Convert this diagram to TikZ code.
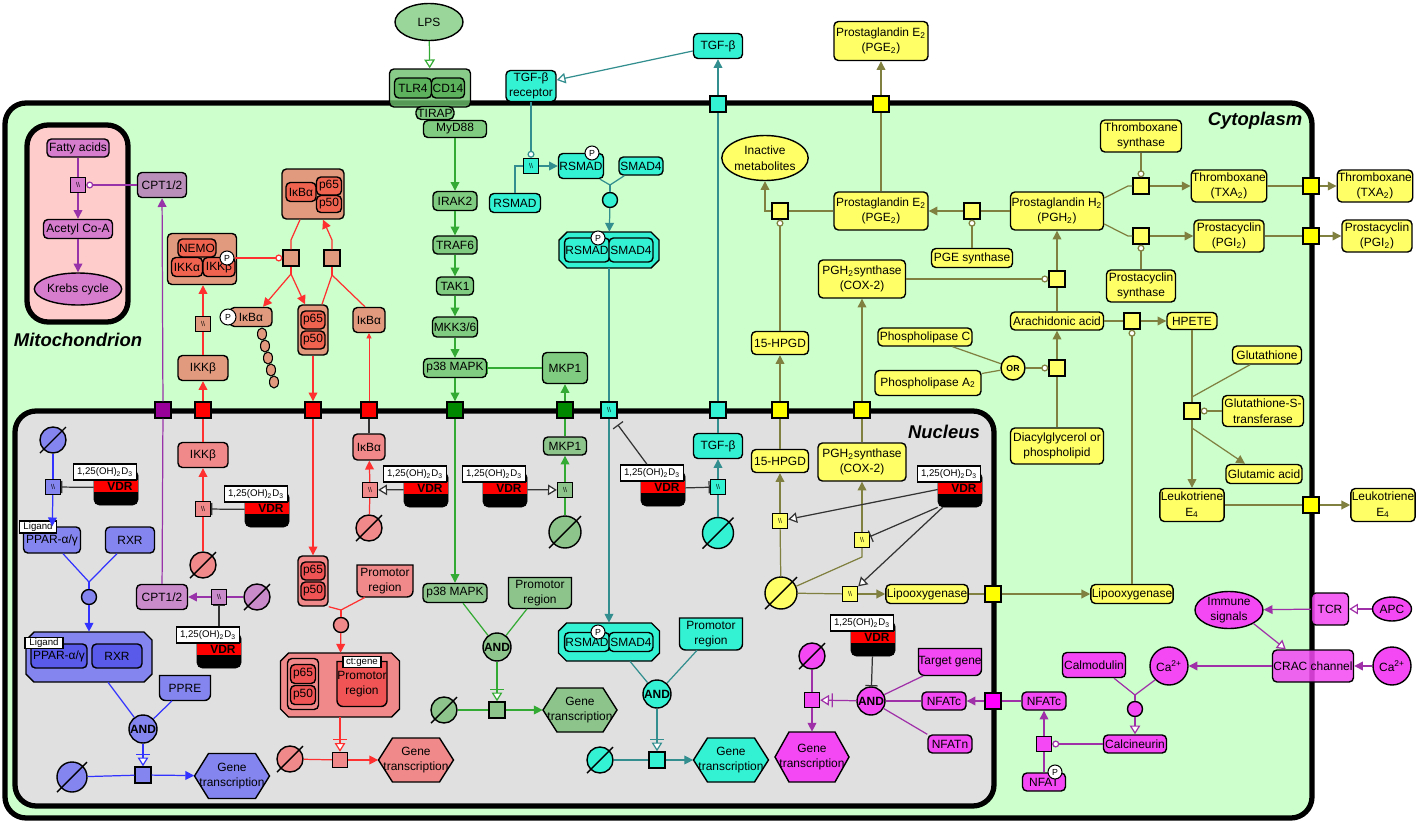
\documentclass[tikz,border=0pt]{standalone}
\usepackage{fontspec}
\setmainfont{Liberation Sans}
\usetikzlibrary{arrows.meta,calc,shapes.geometric}

\definecolor{cyto}{HTML}{CCFFCC}
\definecolor{mito}{HTML}{FFCCCC}
\definecolor{nucl}{HTML}{E0E0E0}
\definecolor{orch}{HTML}{D67DCE}
\definecolor{cptc}{HTML}{BA8FBA}
\definecolor{cptn}{HTML}{C98BC9}
\definecolor{salm}{HTML}{E29A7E}
\definecolor{redin}{HTML}{F0634F}
\definecolor{lcor}{HTML}{F08A8A}
\definecolor{redin2}{HTML}{F05454}
\definecolor{blu}{HTML}{8585F0}
\definecolor{bluin}{HTML}{5A5AEA}
\definecolor{grc}{HTML}{80CC80}
\definecolor{grn}{HTML}{8CC48C}
\definecolor{grin}{HTML}{5DB35D}
\definecolor{lpsc}{HTML}{9AD69A}
\definecolor{tlr}{HTML}{6CBF6C}
\definecolor{cyn}{HTML}{33F2D4}
\definecolor{yel}{HTML}{FFFF66}
\definecolor{mag}{HTML}{F348F3}
\definecolor{sqpur}{HTML}{990099}
\definecolor{sqgrn}{HTML}{008800}
\definecolor{sqmag}{HTML}{FF00FF}
\definecolor{sqyel}{HTML}{FFFF00}
% line colours
\definecolor{lnpur}{HTML}{9933AA}
\definecolor{lnred}{HTML}{FF3030}
\definecolor{lnblu}{HTML}{3333FF}
\definecolor{lngrn}{HTML}{33AA33}
\definecolor{lntea}{HTML}{338F8F}
\definecolor{lnoli}{HTML}{808040}
\definecolor{lnmag}{HTML}{A030A8}
\definecolor{lnvdr}{HTML}{333333}

\newcommand{\omt}{\textbackslash\textbackslash}

% nucleic acid feature: flat top, rounded bottom
\newcommand{\nafeat}[7]{%
  \draw[fill=#6, line width=0.8pt] ({#2-#4/2},{#3-#5/2}) -- ({#2+#4/2},{#3-#5/2})
    -- ({#2+#4/2},{#3+#5/2-6}) arc (0:-90:0.12cm) -- ({#2-#4/2+6},{#3+#5/2})
    arc (270:180:0.12cm) -- cycle;
  \node[sz={#4}{#5}] (#1) at (#2,#3) {#7};}

% complex with cut corners
\newcommand{\octbox}[6]{%
  \draw[fill=#6, line width=0.8pt] ({#2-#4/2+8},{#3-#5/2}) -- ({#2+#4/2-8},{#3-#5/2})
    -- ({#2+#4/2},{#3-#5/2+8}) -- ({#2+#4/2},{#3+#5/2-8}) -- ({#2+#4/2-8},{#3+#5/2})
    -- ({#2-#4/2+8},{#3+#5/2}) -- ({#2-#4/2},{#3+#5/2-8}) -- ({#2-#4/2},{#3-#5/2+8}) -- cycle;
  \node[sz={#4}{#5}, inner sep=0pt] (#1) at (#2,#3) {};}

% gene transcription hexagon
\newcommand{\genebox}[6]{%
  \draw[fill=#6, line width=0.8pt] ({#2-#4/2},#3) -- ({#2-#4/2+14},{#3-#5/2})
    -- ({#2+#4/2-14},{#3-#5/2}) -- ({#2+#4/2},#3) -- ({#2+#4/2-14},{#3+#5/2})
    -- ({#2-#4/2+14},{#3+#5/2}) -- cycle;
  \node[sz={#4}{#5}, inner sep=0pt] (#1) at (#2,#3) {Gene\\transcription};}

% degradation
\newcommand{\sinkat}[5]{%
  \node[sink, fill=#5, minimum size=#4*0.02cm] (#1) at (#2,#3) {};
  \draw[line width=0.8pt] ($(#1.center)+({-0.5*#4},{0.5*#4})$) -- ($(#1.center)+({0.5*#4},{-0.5*#4})$);}

% VDR with its ligand
\newcommand{\vdr}[3]{%
  \node[vdrbody] (#1) at ({#2},{#3+1.5}) {};
  \fill[red] ({#2-22},{#3-6}) rectangle ({#2+22},{#3+6});
  \node[font=\bfseries\fontsize{6.8}{6.8}\selectfont, inner sep=0pt] (#1t) at ({#2+4},{#3}) {VDR};
  \node[lbl, sz={63}{16}] (#1l) at ({#2-11},{#3-14}) {1,25(OH)\textsubscript{2}D\textsubscript{3}};}

\begin{document}
\begin{tikzpicture}[x=0.02cm, y=-0.02cm,
  every node/.style={font=\fontsize{6.8}{8.8}\selectfont, align=center, inner sep=0.5pt},
  sz/.style 2 args={minimum width=#1*0.02cm, minimum height=#2*0.02cm},
  mol/.style={rectangle, draw, rounded corners=2.5pt, line width=0.8pt},
  proc/.style={rectangle, draw, line width=0.8pt, minimum size=15*0.02cm, inner sep=0pt, font=\fontsize{4}{4}\selectfont},
  bnd/.style={proc, minimum size=16*0.02cm},
  sink/.style={circle, draw, line width=0.8pt, inner sep=0pt},
  assoc/.style={circle, draw, line width=0.8pt, minimum size=15*0.02cm, inner sep=0pt},
  gate/.style={circle, draw, line width=0.8pt, minimum size=28*0.02cm, inner sep=0pt, font=\bfseries\fontsize{6.8}{6.8}\selectfont},
  pbub/.style={circle, draw, fill=white, line width=0.6pt, minimum size=14*0.02cm, inner sep=0pt, font=\fontsize{5}{5}\selectfont},
  lbl/.style={rectangle, draw, fill=white, line width=0.8pt, inner sep=0.5pt, font=\fontsize{5.5}{5.5}\selectfont},
  ell/.style={ellipse, draw, line width=0.8pt, inner sep=0pt},
  ion/.style={circle, draw, line width=0.8pt, minimum size=38*0.02cm, inner sep=0pt},
  vdrbody/.style={rectangle, draw, fill=black, rounded corners=3pt, sz={44}{35}},
  comp/.style={draw, line width=3pt, rounded corners=12pt},
  compname/.style={font=\bfseries\itshape\fontsize{10.5}{12}\selectfont},
  act/.style={-{Triangle[length=5pt,width=5pt]}},
  stim/.style={-{Triangle[length=5pt,width=6pt,fill=white]}},
  inh/.style={-{Bar[width=7pt]}},
  cat/.style={-{Circle[length=4pt,fill=white]}},
  nec/.style={-{Bar[width=8pt,sep=1.5pt]Triangle[length=5pt,width=6pt,fill=white]}},
  lp/.style={draw=lnpur, line width=0.7pt},
  lr/.style={draw=lnred, line width=0.7pt},
  lb/.style={draw=lnblu, line width=0.7pt},
  lg/.style={draw=lngrn, line width=0.7pt},
  lc/.style={draw=lntea, line width=0.7pt},
  ly/.style={draw=lnoli, line width=0.7pt},
  lm/.style={draw=lnmag, line width=0.7pt},
  lv/.style={draw=lnvdr, line width=0.7pt}]

\useasboundingbox (0,0) rectangle (1418,825);

% compartments
\draw[comp, fill=cyto] (5,103) rectangle (1312,818);
\draw[comp, fill=mito] (27,125) rectangle (128,322);
\draw[comp, fill=nucl] (15,411) rectangle (994,806);
\node[compname] (cytolbl) at (1255,121) {Cytoplasm};
\node[compname] (mitolbl) at (78,340) {Mitochondrion};
\node[compname] (nuclbl) at (944,432) {Nucleus};

% mitochondrion
\node[mol, fill=orch, sz={62}{18}] (fa) at (78,148) {Fatty acids};
\node[proc, fill=orch] (faSq) at (78,185) {\omt};
\node[mol, fill=orch, sz={69}{19}] (acoa) at (78,229) {Acetyl Co-A};
\node[ell, fill=orch, sz={70}{32}] (krebs) at (78,289) {Krebs cycle};
\node[mol, fill=cptc, sz={49}{25}] (cptc) at (162,185) {CPT1/2};

% NF-kB in the cytoplasm
\node[mol, fill=salm, sz={62}{50}] (ikbcx) at (313,194) {};
\node[mol, fill=redin, sz={30}{19}] (ikbcx1) at (301,192) {IκBα};
\node[mol, fill=redin, sz={25}{18}] (ikbcx2) at (329,186) {p65};
\node[mol, fill=redin, sz={25}{17}] (ikbcx3) at (329,204) {p50};
\node[mol, fill=salm, sz={69}{51}] (ikkcx) at (202,259) {};
\node[mol, fill=redin, sz={38}{18}] (nemo) at (197,248) {NEMO};
\node[mol, fill=redin, sz={31}{19}] (ikka) at (187,267) {IKKα};
\node[mol, fill=redin, sz={32}{19}] (ikkb) at (219,267) {IKKβ};
\node[pbub] (ikkP) at (227,258) {P};
\node[bnd, fill=salm] (dSq1) at (291,258) {};
\node[bnd, fill=salm] (aSq2) at (332,258) {};
\node[mol, fill=salm, sz={42}{19}] (pikba) at (251,317) {IκBα};
\node[pbub, minimum size=16*0.02cm] (pikbaP) at (228,317) {P};
\foreach \bx/\by in {262/334, 265/346, 268/358, 271/370, 274/382}
  \draw[fill=salm, line width=0.6pt] (\bx,\by) ellipse (0.09cm and 0.12cm);
\node[mol, fill=salm, sz={30}{50}] (p6550c) at (313,330) {};
\node[mol, fill=redin, sz={24}{18}] (p65c) at (313,320) {p65};
\node[mol, fill=redin, sz={24}{18}] (p50c) at (313,340) {p50};
\node[mol, fill=salm, sz={32}{25}] (ikbac) at (369,320) {IκBα};
\node[mol, fill=salm, sz={50}{25}] (ikkbc) at (203,368) {IKKβ};
\node[proc, fill=salm] (ikkSq) at (203,324) {\omt};

% squares on the nuclear envelope
\node[bnd, fill=sqpur] (psq) at (163,410) {};
\node[bnd, fill=red] (rsq1) at (203,410) {};
\node[bnd, fill=red] (rsq2) at (313,410) {};
\node[bnd, fill=red] (rsq3) at (369,410) {};
\node[bnd, fill=sqgrn] (gsq1) at (455,410) {};
\node[bnd, fill=sqgrn] (gsq2) at (565,410) {};
\node[bnd, fill=cyn] (csq1) at (609,410) {\omt};
\node[bnd, fill=cyn] (csq2) at (718,410) {};
\node[bnd, fill=sqyel] (ysq1) at (780,410) {};
\node[bnd, fill=sqyel] (ysq2) at (862,410) {};

% NF-kB in the nucleus
\node[mol, fill=lcor, sz={50}{25}] (ikkbn) at (203,455) {IKKβ};
\node[proc, fill=lcor] (ikkSqn) at (203,509) {\omt};
\sinkat{ikkSink}{203}{565}{26}{lcor}
\node[mol, fill=lcor, sz={32}{26}] (ikban) at (369,447) {IκBα};
\node[proc, fill=lcor] (ikbSqn) at (370,490) {\omt};
\sinkat{ikbSink}{369}{528}{26}{lcor}
\node[mol, fill=lcor, sz={30}{50}] (p6550n) at (313,581) {};
\node[mol, fill=redin2, sz={24}{18}] (p65n) at (313,571) {p65};
\node[mol, fill=redin2, sz={24}{18}] (p50n) at (313,591) {p50};
\nafeat{promR}{385}{581}{56}{32}{lcor}{Promotor\\region}
\node[assoc, fill=lcor] (joinR) at (341,625) {};
\octbox{cxR}{340}{685}{119}{64}{lcor}
\node[mol, fill=lcor, sz={31}{51}] (cxRp) at (303,684) {};
\node[mol, fill=redin2, sz={25}{19}] (cxRp65) at (303,674) {p65};
\node[mol, fill=redin2, sz={25}{19}] (cxRp50) at (303,695) {p50};
\nafeat{cxRprom}{362}{684}{50}{45}{redin2}{Promotor\\region}
\node[lbl, sz={38}{11}] (ctgene) at (362,662) {ct:gene};
\node[proc, fill=lcor] (sqR) at (340,760) {};
\sinkat{sinkR}{290}{759}{26}{lcor}
\genebox{geneR}{416}{760}{75}{44}{lcor}

% PPAR
\sinkat{sinkB1}{53}{440}{26}{blu}
\node[proc, fill=blu] (sqB1) at (53,487) {\omt};
\node[mol, fill=blu, sz={57}{26}] (ppar) at (52,540) {PPAR-α/γ};
\node[lbl, sz={37}{12}] (ligand1) at (38,527) {Ligand};
\node[mol, fill=blu, sz={49}{26}] (rxr) at (130,540) {RXR};
\node[assoc, fill=blu] (joinB) at (89,597) {};
\octbox{cxB}{89}{657}{126}{50}{blu}
\node[mol, fill=bluin, sz={56}{24}] (cxBppar) at (59,656) {PPAR-α/γ};
\node[mol, fill=bluin, sz={50}{24}] (cxBrxr) at (117,656) {RXR};
\node[lbl, sz={38}{11}] (ligand2) at (44,643) {Ligand};
\nafeat{ppre}{185}{688}{51}{25}{blu}{PPRE}
\node[gate, fill=blu] (andB) at (143,729) {AND};
\node[bnd, fill=blu] (sqB2) at (143,775) {};
\sinkat{sinkB2}{72}{777}{30}{blu}
\genebox{geneB}{232}{776}{75}{45}{blu}

% CPT1/2 in the nucleus
\node[mol, fill=cptn, sz={51}{25}] (cptn) at (162,597) {CPT1/2};
\node[proc, fill=cptn] (sqP) at (219,597) {\omt};
\sinkat{sinkP}{257}{597}{26}{cptn}

% p38 MAPK
\node[ell, fill=lpsc, sz={68}{37}] (lps) at (429,22) {LPS};
\node[mol, fill=tlr, fill opacity=0.8, text opacity=1, sz={81}{38}] (tlrcx) at (430,88) {};
\node[mol, fill=grin, sz={37}{20}] (tlr4) at (413,88) {TLR4};
\node[mol, fill=grin, sz={33}{20}] (cd14) at (448,88) {CD14};
\node[mol, fill=grc, rounded corners=3pt, sz={38}{13}] (tirap) at (435,113) {TIRAP};
\node[mol, fill=grc, sz={63}{17}] (myd88) at (455,129) {MyD88};
\node[mol, fill=grc, sz={44}{19}] (irak2) at (455,201) {IRAK2};
\node[mol, fill=grc, sz={44}{18}] (traf6) at (455,245) {TRAF6};
\node[mol, fill=grc, sz={37}{18}] (tak1) at (455,286) {TAK1};
\node[mol, fill=grc, sz={45}{20}] (mkk) at (455,327) {MKK3/6};
\node[mol, fill=grc, sz={63}{19}] (p38c) at (455,368) {p38 MAPK};
\node[mol, fill=grc, sz={45}{31}] (mkp1c) at (565,368) {MKP1};
\node[mol, fill=grn, sz={43}{18}] (mkp1n) at (565,446) {MKP1};
\node[proc, fill=grn] (sqG) at (565,490) {\omt};
\sinkat{sinkG}{565}{532}{32}{grn}
\node[mol, fill=grn, sz={64}{19}] (p38n) at (455,593) {p38 MAPK};
\nafeat{promG}{540}{593}{63}{31}{grn}{Promotor\\region}
\node[gate, fill=grn] (andG) at (497,647) {AND};
\node[bnd, fill=grn] (sqG2) at (497,710) {};
\sinkat{sinkG2}{444}{710}{26}{grn}
\genebox{geneG}{580}{710}{74}{44}{grn}

% TGF-beta
\node[mol, fill=cyn, sz={49}{25}] (tgfo) at (718,46) {TGF-β};
\node[bnd, fill=cyn] (csq0) at (718,104) {};
\node[mol, fill=cyn, sz={50}{31}] (rec) at (531,86) {TGF-β\\receptor};
\node[proc, fill=cyn] (sqC) at (531,166) {\omt};
\node[mol, fill=cyn, sz={51}{19}] (rsmad) at (515,203) {RSMAD};
\node[mol, fill=cyn, sz={45}{25}] (rsmadp) at (581,166) {RSMAD};
\node[pbub] (rsmadpP) at (592,153) {P};
\node[mol, fill=cyn, sz={44}{18}] (smad4) at (641,166) {SMAD4};
\node[assoc, fill=cyn] (joinC) at (610,200) {};
\octbox{cxC}{609}{250}{100}{36}{cyn}
\node[mol, fill=cyn, sz={43}{24}] (cxCr) at (587,250) {RSMAD};
\node[mol, fill=cyn, sz={44}{24}] (cxCs) at (631,250) {SMAD4};
\node[pbub] (cxCP) at (598,238) {P};
\octbox{cxCn}{609}{642}{101}{38}{cyn}
\node[mol, fill=cyn, sz={43}{19}] (cxCnr) at (587,642) {RSMAD};
\node[mol, fill=cyn, sz={44}{19}] (cxCns) at (631,642) {SMAD4};
\node[pbub] (cxCnP) at (598,632) {P};
\nafeat{promC}{711}{634}{63}{32}{cyn}{Promotor\\region}
\node[gate, fill=cyn] (andC) at (657,694) {AND};
\node[bnd, fill=cyn] (sqC2) at (657,760) {};
\sinkat{sinkC}{600}{760}{26}{cyn}
\genebox{geneC}{731}{760}{75}{44}{cyn}
\node[mol, fill=cyn, sz={49}{25}] (tgfn) at (718,446) {TGF-β};
\node[proc, fill=cyn] (sqCn) at (718,487) {\omt};
\sinkat{sinkC2}{718}{533}{31}{cyn}

% prostaglandins and leukotrienes
\node[mol, fill=yel, sz={94}{39}] (pge2o) at (881,41) {Prostaglandin E\textsubscript{2}\\(PGE\textsubscript{2})};
\node[bnd, fill=sqyel] (ysq0) at (881,104) {};
\node[mol, fill=yel, sz={94}{38}] (pge2) at (881,211) {Prostaglandin E\textsubscript{2}\\(PGE\textsubscript{2})};
\node[ell, fill=yel, sz={70}{45}] (inact) at (765,158) {Inactive\\metabolites};
\node[bnd, fill=yel] (sqY1) at (780,211) {};
\node[bnd, fill=yel] (sqY2) at (972,211) {};
\node[mol, fill=yel, sz={81}{19}] (pges) at (972,258) {PGE synthase};
\node[mol, fill=yel, sz={93}{38}] (pgh2) at (1057,211) {Prostaglandin H\textsubscript{2}\\(PGH\textsubscript{2})};
\node[mol, fill=yel, sz={81}{32}] (txs) at (1141,136) {Thromboxane\\synthase};
\node[bnd, fill=yel] (sqTx) at (1141,186) {};
\node[mol, fill=yel, sz={75}{32}] (txa) at (1229,186) {Thromboxane\\(TXA\textsubscript{2})};
\node[bnd, fill=sqyel] (ysqTx) at (1311,186) {};
\node[mol, fill=yel, sz={75}{32}] (txao) at (1375,186) {Thromboxane\\(TXA\textsubscript{2})};
\node[bnd, fill=yel] (sqPg) at (1141,236) {};
\node[mol, fill=yel, sz={70}{32}] (pgi) at (1229,236) {Prostacyclin\\(PGI\textsubscript{2})};
\node[bnd, fill=sqyel] (ysqPg) at (1311,236) {};
\node[mol, fill=yel, sz={70}{32}] (pgio) at (1377,236) {Prostacyclin\\(PGI\textsubscript{2})};
\node[mol, fill=yel, sz={69}{32}] (pgis) at (1141,286) {Prostacyclin\\synthase};
\node[mol, fill=yel, sz={87}{38}] (cox2c) at (862,279) {PGH\textsubscript{2}synthase\\(COX-2)};
\node[bnd, fill=yel] (sqAA) at (1057,279) {};
\node[mol, fill=yel, sz={93}{18}] (aa) at (1057,321) {Arachidonic acid};
\node[bnd, fill=yel] (sqH) at (1132,321) {};
\node[mol, fill=yel, sz={50}{17}] (hpete) at (1192,321) {HPETE};
\node[mol, fill=yel, sz={94}{18}] (plc) at (925,337) {Phospholipase C};
\node[mol, fill=yel, sz={106}{25}] (pla2) at (928,383) {Phospholipase A\textsubscript{2}};
\node[gate, fill=yel, minimum size=24*0.02cm, font=\bfseries\fontsize{5}{5}\selectfont] (orY) at (1013,368) {OR};
\node[bnd, fill=yel] (sqOR) at (1057,368) {};
\node[mol, fill=yel, sz={93}{36}] (dag) at (1057,446) {Diacylglycerol or\\phospholipid};
\node[mol, fill=yel, sz={57}{23}] (hpgdc) at (780,343) {15-HPGD};
\node[mol, fill=yel, sz={57}{23}] (hpgdn) at (780,461) {15-HPGD};
\node[mol, fill=yel, sz={88}{38}] (cox2n) at (862,462) {PGH\textsubscript{2}synthase\\(COX-2)};
\node[proc, fill=yel] (sqHp) at (780,521) {\omt};
\node[proc, fill=yel] (sqCx) at (862,540) {\omt};
\sinkat{sinkY}{781}{593}{32}{yel}
\node[proc, fill=yel] (sqLx) at (850,594) {\omt};
\node[mol, fill=yel, sz={81}{19}] (loxn) at (927,594) {Lipooxygenase};
\node[bnd, fill=sqyel] (ysqLx) at (993,594) {};
\node[mol, fill=yel, sz={81}{19}] (loxc) at (1132,594) {Lipooxygenase};
\node[bnd, fill=yel] (sqGl) at (1192,411) {};
\node[mol, fill=yel, sz={69}{18}] (glu) at (1267,355) {Glutathione};
\node[mol, fill=yel, sz={81}{31}] (gst) at (1263,411) {Glutathione-S-\\transferase};
\node[mol, fill=yel, sz={76}{19}] (glua) at (1264,474) {Glutamic acid};
\node[mol, fill=yel, sz={62}{33}] (lte4) at (1192,505) {Leukotriene\\E\textsubscript{4}};
\node[bnd, fill=sqyel] (ysqLt) at (1311,505) {};
\node[mol, fill=yel, sz={62}{33}] (lte4o) at (1383,505) {Leukotriene\\E\textsubscript{4}};

% NFAT
\sinkat{sinkM}{812}{656}{26}{mag}
\node[proc, fill=mag] (sqM) at (812,700) {};
\genebox{geneM}{812}{757}{74}{50}{mag}
\node[gate, fill=mag] (andM) at (871,701) {AND};
\nafeat{tgene}{950}{662}{63}{27}{mag}{Target gene}
\node[mol, fill=mag, sz={44}{18}] (nfatcn) at (944,701) {NFATc};
\node[mol, fill=mag, sz={44}{18}] (nfatn) at (950,744) {NFATn};
\node[bnd, fill=sqmag] (msq) at (993,701) {};
\node[mol, fill=mag, sz={44}{18}] (nfatcc) at (1044,701) {NFATc};
\node[proc, fill=mag] (sqM2) at (1044,744) {};
\node[mol, fill=mag, sz={43}{18}] (nfatp) at (1044,782) {NFAT};
\node[pbub] (nfatpP) at (1055,772) {P};
\node[mol, fill=mag, sz={63}{18}] (calcin) at (1135,744) {Calcineurin};
\node[assoc, fill=mag] (joinM) at (1135,709) {};
\node[mol, fill=mag, sz={63}{25}] (calm) at (1094,665) {Calmodulin};
\node[ion, fill=mag] (ca1) at (1169,666) {Ca\textsuperscript{2+}};
\node[mol, fill=mag, fill opacity=0.85, text opacity=1, sz={81}{32}] (crac) at (1313,666) {CRAC channel};
\node[ion, fill=mag] (ca2) at (1392,666) {Ca\textsuperscript{2+}};
\node[mol, fill=mag, fill opacity=0.85, text opacity=1, sz={37}{32}] (tcr) at (1330,609) {TCR};
\node[ell, fill=mag, sz={39}{24}] (apc) at (1392,609) {APC};
\node[ell, fill=mag, sz={68}{36}] (immune) at (1229,610) {Immune\\signals};

% VDR
\vdr{vdr1}{116}{486}
\vdr{vdr2}{267}{508}
\vdr{vdr3}{426}{488}
\vdr{vdr4}{505}{488}
\vdr{vdr5}{663}{487}
\vdr{vdr6}{960}{488}
\vdr{vdr7}{219}{649}
\vdr{vdr8}{873}{637}

% mitochondrion arcs
\draw[lp] (fa) -- (faSq);
\draw[lp, act] (faSq) -- (acoa);
\draw[lp, act] (acoa) -- (krebs);
\draw[lp, cat] (cptc) -- (faSq);
\draw[lp] (cptn) -- (psq);
\draw[lp, act] (psq) -- (cptc);
\draw[lp, act] (sqP) -- (cptn);
\draw[lp] (sinkP) -- (sqP);

% NF-kB arcs
\draw[lr] (ikkbc) -- (ikkSq);
\draw[lr, act] (ikkSq.north) -- (ikkSq |- ikkcx.south);
\draw[lr, act] (rsq1) -- (ikkbc);
\draw[lr] (ikkbn) -- (rsq1);
\draw[lr, act] (ikkSqn) -- (ikkbn);
\draw[lr] (ikkSink) -- (ikkSqn);
\draw[lr, cat] (ikkP) -- (dSq1);
\draw[lr] ($(ikbcx.south)+(-13,0)$) -- (291,240) -- (dSq1.north);
\coordinate (spl1) at (291,274);
\draw[lr] (dSq1.south) -- (spl1);
\draw[lr, act] (spl1) -- ($(pikba.north)+(12,0)$);
\draw[lr, act] (spl1) -- ($(p6550c.north)+(-8,0)$);
\coordinate (spl2) at (332,275);
\draw[lr] ($(p6550c.north)+(9,0)$) -- (spl2);
\draw[lr] ($(ikbac.north)+(-4,0)$) -- (spl2);
\draw[lr] (spl2) -- (aSq2.south);
\draw[lr, act] (aSq2.north) -- (332,240) -- ($(ikbcx.south)+(10,0)$);
\draw[lr, act] (p6550c) -- (rsq2);
\draw[lr, act] (rsq2) -- (p6550n);
\draw[lr, thin, -{Triangle[length=3pt,width=3pt]}] (rsq3) -- (ikbac);
\draw[lv] (ikban) -- (rsq3);
\draw[lr, act] (ikbSqn) -- (ikban);
\draw[lr] (ikbSink) -- (ikbSqn);
\coordinate (jR) at (341,610);
\draw[lr] (p6550n.south east) -- (jR);
\draw[lr] ($(promR.south)+(-20,0)$) -- (jR);
\draw[lr] (jR) -- (joinR);
\draw[lr, act] (joinR) -- (cxR);
\draw[lr, nec] (cxR) -- (sqR);
\draw[lr] (sinkR) -- (sqR);
\draw[lr, act] (sqR) -- (geneR);

% PPAR arcs
\draw[lb] (sinkB1) -- (sqB1);
\draw[lb, act] (sqB1) -- (ppar);
\coordinate (jB) at (89,582);
\draw[lb] ($(ppar.south)+(11,0)$) -- (jB);
\draw[lb] ($(rxr.south)+(-13,0)$) -- (jB);
\draw[lb] (jB) -- (joinB);
\draw[lb, act] (joinB) -- (cxB);
\draw[lb] ($(cxB.south)+(19,0)$) -- (andB);
\draw[lb] ($(ppre.south)+(-13,0)$) -- (andB);
\draw[lb, nec] (andB) -- (sqB2);
\draw[lb] (sinkB2) -- (sqB2);
\draw[lb, act] (sqB2) -- (geneB);

% p38 arcs
\draw[lg, stim] (lps) -- (tlrcx);
\draw[lg, act] (myd88) -- (irak2);
\draw[lg, act] (irak2) -- (traf6);
\draw[lg, act] (traf6) -- (tak1);
\draw[lg, act] (tak1) -- (mkk);
\draw[lg, act] (mkk) -- (p38c);
\draw[lg, act] (p38c) -- (gsq1);
\draw[lg, act] (gsq1) -- (p38n);
\draw[lg, inh] (mkp1c) -- (p38c);
\draw[lg, act] (gsq2) -- (mkp1c);
\draw[lg] (mkp1n) -- (gsq2);
\draw[lg, act] (sqG) -- (mkp1n);
\draw[lg] (sinkG) -- (sqG);
\draw[lg] ($(p38n.south)+(8,0)$) -- (andG);
\draw[lg] ($(promG.south)+(-13,0)$) -- (andG);
\draw[lg, nec] (andG) -- (sqG2);
\draw[lg] (sinkG2) -- (sqG2);
\draw[lg, act] (sqG2) -- (geneG);

% TGF-beta arcs
\draw[lc, act] (csq0) -- (tgfo);
\draw[lc] (csq2) -- (csq0);
\draw[lc] (tgfn) -- (csq2);
\draw[lc, stim] ($(tgfo.west)+(0,5)$) -- ($(rec.east)+(0,-6)$);
\draw[lc, cat] (rec) -- (sqC);
\draw[lc] (rsmad.north) |- (sqC.west);
\draw[lc, act] (sqC) -- (rsmadp);
\coordinate (jC) at (610,185);
\draw[lc] ($(rsmadp.south)+(19,0)$) -- (jC);
\draw[lc] ($(smad4.south west)+(6,0)$) -- (jC);
\draw[lc] (jC) -- (joinC);
\draw[lc, act] (joinC) -- (cxC);
\draw[lc] (cxC) -- (csq1);
\draw[lc, act] (csq1) -- (cxCn);
\draw[lc, act] (sqCn) -- (tgfn);
\draw[lc] (sinkC2) -- (sqCn);
\draw[lc] ($(cxCn.south)+(21,0)$) -- (andC);
\draw[lc] ($(promC.south)+(-14,0)$) -- (andC);
\draw[lc, nec] (andC) -- (sqC2);
\draw[lc] (sinkC) -- (sqC2);
\draw[lc, act] (sqC2) -- (geneC);

% prostaglandin arcs
\draw[ly] (pge2) -- (ysq0);
\draw[ly, act] (ysq0) -- (pge2o);
\draw[ly] (pge2) -- (sqY1);
\draw[ly, act] (sqY1.west) -| (inact.south);
\draw[ly, cat] (hpgdc) -- (sqY1);
\draw[ly] (pgh2) -- (sqY2);
\draw[ly, act] (sqY2) -- (pge2);
\draw[ly, cat] (pges) -- (sqY2);
\draw[ly] ($(pgh2.east)+(0,-13)$) -- (1128,186) -- (sqTx.west);
\draw[ly, act] (sqTx) -- (txa);
\draw[ly, cat] (txs) -- (sqTx);
\draw[ly] (txa) -- (ysqTx);
\draw[ly, act] (ysqTx) -- (txao);
\draw[ly] ($(pgh2.east)+(0,13)$) -- (1128,236) -- (sqPg.west);
\draw[ly, act] (sqPg) -- (pgi);
\draw[ly, cat] (pgis) -- (sqPg);
\draw[ly] (pgi) -- (ysqPg);
\draw[ly, act] (ysqPg) -- (pgio);
\draw[ly, cat] (cox2c) -- (sqAA);
\draw[ly] (aa) -- (sqAA);
\draw[ly, act] (sqAA) -- (pgh2);
\draw[ly] (aa) -- (sqH);
\draw[ly, act] (sqH) -- (hpete);
\draw[ly, cat] (loxc) -- (sqH);
\draw[ly] (plc) -- (orY);
\draw[ly] (pla2) -- (orY);
\draw[ly, cat] (orY) -- (sqOR);
\draw[ly] (dag) -- (sqOR);
\draw[ly, act] (sqOR) -- (aa);
\draw[ly] (hpgdn) -- (ysq1);
\draw[ly, act] (ysq1) -- (hpgdc);
\draw[ly] (cox2n) -- (ysq2);
\draw[ly, act] (ysq2) -- (cox2c);
\draw[ly, act] (sqHp) -- (hpgdn);
\draw[ly] (sinkY) -- (sqHp);
\draw[ly] (sinkY) -- (862,557) -- (sqCx.south);
\draw[ly, act] (sqCx) -- (cox2n);
\draw[ly] (sinkY) -- (sqLx);
\draw[ly, act] (sqLx) -- (loxn);
\draw[ly] (loxn) -- (ysqLx);
\draw[ly, act] (ysqLx) -- (loxc);
\draw[ly] (hpete) -- (sqGl);
\coordinate (gjn) at (1192,397);
\draw[ly] ($(glu.south)+(-17,0)$) -- (gjn);
\draw[ly, cat] (gst) -- (sqGl);
\draw[ly, act] (sqGl) -- (lte4);
\coordinate (gsp) at (1192,428);
\draw[ly, act] (gsp) -- ($(glua.north)+(-19,0)$);
\draw[ly] (lte4) -- (ysqLt);
\draw[ly, act] (ysqLt) -- (lte4o);

% NFAT arcs
\draw[lm] (sinkM) -- (sqM);
\draw[lm, act] (sqM) -- (geneM);
\draw[lm, nec] (andM) -- (sqM);
\draw[lm] ($(tgene.south west)+(6,0)$) -- (andM);
\draw[lm] (nfatcn) -- (andM);
\draw[lm] (nfatn.north west) -- (andM);
\draw[lm] (nfatcc) -- (msq);
\draw[lm, act] (msq) -- (nfatcn);
\draw[lm] (nfatp) -- (sqM2);
\draw[lm, act] (sqM2) -- (nfatcc);
\draw[lm, cat] (calcin) -- (sqM2);
\coordinate (jM) at (1135,695);
\draw[lm] ($(calm.south)+(20,0)$) -- (jM);
\draw[lm] (ca1.south west) -- (jM);
\draw[lm] (jM) -- (joinM);
\draw[lm, stim] (joinM) -- (calcin);
\draw[lm, act] (crac) -- (ca1);
\draw[lm, act] (ca2) -- (crac);
\draw[lm, stim] (apc) -- (tcr);
\draw[lm, act] (tcr) -- (immune);
\draw[lm, stim] (immune.south east) -- ($(crac.north west)+(14,0)$);

% VDR arcs
\draw[lv, inh] (vdr1) -- (sqB1);
\draw[lv, inh] (vdr2) -- (ikkSqn);
\draw[lv, stim] (vdr3) -- (ikbSqn);
\draw[lv, stim] (vdr4) -- (sqG);
\draw[lv, inh] (vdr5) -- (sqCn);
\draw[lv, inh] ($(vdr5l.north)+(-5,0)$) -- ($(csq1.south east)+(0,6)$);
\draw[lv, stim] (vdr6.west) -- (sqHp);
\draw[lv, inh] (vdr6.south west) -- (sqCx);
\draw[lv, stim] ($(vdr6.south west)+(5,0)$) -- (sqLx);
\draw[lv, inh] (vdr7l.north -| sqP) -- (sqP);
\draw[lv, inh] (vdr8) -- (andM);

\end{tikzpicture}
\end{document}
